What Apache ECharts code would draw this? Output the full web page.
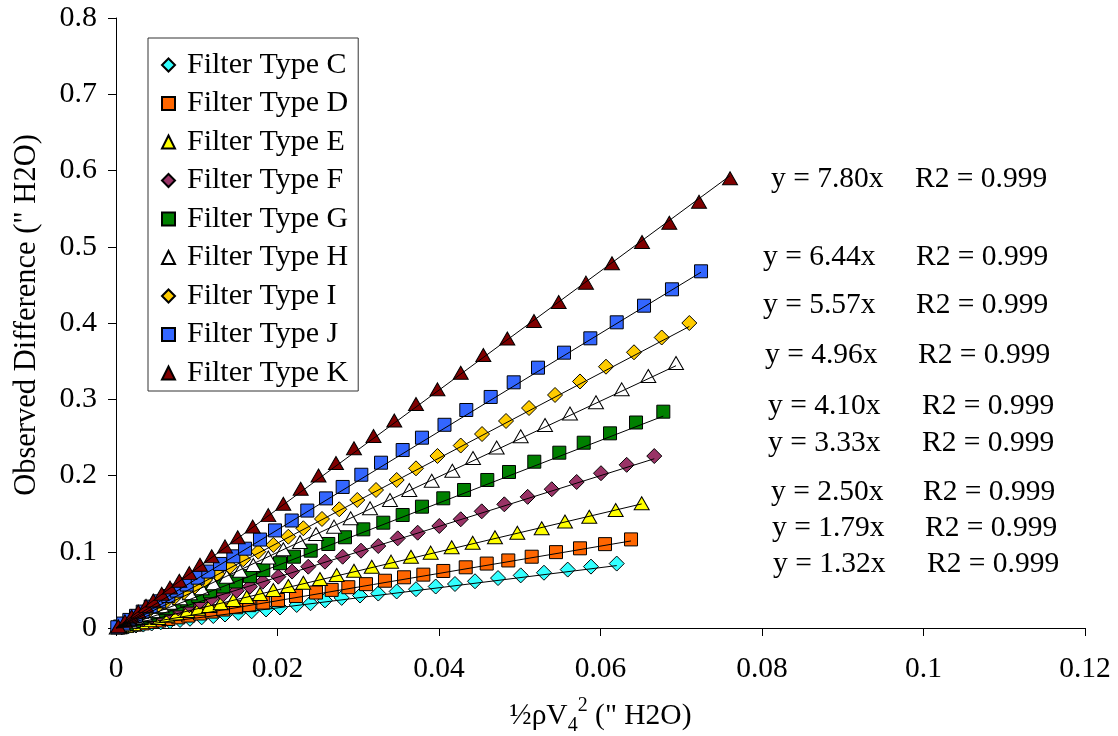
<!DOCTYPE html>
<html>
<head>
<meta charset="utf-8">
<script src="https://cdn.jsdelivr.net/npm/echarts@6/dist/echarts.min.js"></script>
<style>
html,body{margin:0;padding:0;background:#fff;}
#chart{width:1118px;height:736px;}
</style>
</head>
<body>
<div id="chart"></div>
<script>
// ---------- DATA ----------
const categories = ['Filter Type C','Filter Type D','Filter Type E','Filter Type F','Filter Type G','Filter Type H','Filter Type I','Filter Type J','Filter Type K'];
const slopes = [1.32, 1.79, 2.50, 3.33, 4.10, 4.96, 5.57, 6.44, 7.80];
const eqLabels = ['y = 1.32x','y = 1.79x','y = 2.50x','y = 3.33x','y = 4.10x','y = 4.96x','y = 5.57x','y = 6.44x','y = 7.80x'];
const r2Labels = ['R2 = 0.999','R2 = 0.999','R2 = 0.999','R2 = 0.999','R2 = 0.999','R2 = 0.999','R2 = 0.999','R2 = 0.999','R2 = 0.999'];
const xTickLabels = ['0','0.02','0.04','0.06','0.08','0.1','0.12'];
const yTickLabels = ['0','0.1','0.2','0.3','0.4','0.5','0.6','0.7','0.8'];
const xAxisTitle = '½ρV{sub|4}{sup|2} (" H2O)';
const yAxisTitle = 'Observed Difference (" H2O)';

const xC = [0.00071,0.00152,0.00248,0.00338,0.00442,0.00554,0.00669,0.00793,0.00916,0.01061,0.01205,0.01350,0.01514,0.01680,0.01858,0.02031,0.02238,0.02409,0.02588,0.02795,0.03022,0.03248,0.03476,0.03715,0.03959,0.04198,0.04446,0.04731,0.05012,0.05300,0.05594,0.05882,0.06201];
const yC = [0.0009,0.0020,0.0033,0.0045,0.0059,0.0074,0.0088,0.0105,0.0121,0.0140,0.0157,0.0177,0.0197,0.0219,0.0243,0.0269,0.0302,0.0325,0.0362,0.0395,0.0426,0.0452,0.0479,0.0509,0.0544,0.0577,0.0613,0.0655,0.0690,0.0725,0.0766,0.0805,0.0845];

const xD = [0.00058,0.00140,0.00235,0.00331,0.00430,0.00536,0.00648,0.00772,0.00895,0.01040,0.01185,0.01329,0.01486,0.01651,0.01824,0.02006,0.02229,0.02477,0.02671,0.02877,0.03096,0.03331,0.03567,0.03806,0.04053,0.04331,0.04591,0.04858,0.05148,0.05449,0.05746,0.06056,0.06378];
const yD = [0.0011,0.0026,0.0043,0.0060,0.0079,0.0098,0.0118,0.0140,0.0163,0.0190,0.0215,0.0242,0.0272,0.0300,0.0333,0.0368,0.0420,0.0465,0.0500,0.0535,0.0575,0.0620,0.0665,0.0700,0.0748,0.0796,0.0845,0.0886,0.0935,0.0995,0.1045,0.1100,0.1162];

const xE = [0.00041,0.00124,0.00214,0.00318,0.00412,0.00524,0.00635,0.00752,0.00883,0.01019,0.01155,0.01297,0.01453,0.01619,0.01783,0.01948,0.02134,0.02320,0.02526,0.02733,0.02947,0.03167,0.03406,0.03653,0.03897,0.04157,0.04417,0.04693,0.04970,0.05272,0.05560,0.05861,0.06188,0.06510];
const yE = [0.0010,0.0031,0.0054,0.0080,0.0103,0.0131,0.0160,0.0190,0.0223,0.0253,0.0289,0.0324,0.0367,0.0407,0.0446,0.0498,0.0551,0.0594,0.0643,0.0695,0.0751,0.0804,0.0870,0.0935,0.0988,0.1058,0.1119,0.1190,0.1250,0.1308,0.1397,0.1460,0.1548,0.1635];

const xF = [0.00071,0.00152,0.00248,0.00338,0.00442,0.00545,0.00660,0.00772,0.00908,0.01040,0.01185,0.01329,0.01495,0.01659,0.01817,0.02010,0.02180,0.02381,0.02588,0.02807,0.03034,0.03248,0.03489,0.03736,0.04004,0.04269,0.04529,0.04809,0.05098,0.05396,0.05705,0.06006,0.06324,0.06666];
const yF = [0.0024,0.0051,0.0083,0.0113,0.0147,0.0180,0.0220,0.0257,0.0300,0.0345,0.0390,0.0442,0.0489,0.0542,0.0607,0.0673,0.0740,0.0804,0.0870,0.0935,0.1014,0.1075,0.1176,0.1250,0.1338,0.1426,0.1530,0.1622,0.1720,0.1820,0.1915,0.2030,0.2140,0.2255];

const xG = [0.00050,0.00133,0.00223,0.00318,0.00421,0.00524,0.00628,0.00752,0.00883,0.01019,0.01164,0.01329,0.01486,0.01659,0.01824,0.02031,0.02204,0.02411,0.02629,0.02836,0.03063,0.03310,0.03550,0.03789,0.04053,0.04310,0.04598,0.04867,0.05180,0.05490,0.05792,0.06118,0.06440,0.06778];
const yG = [0.0020,0.0055,0.0092,0.0130,0.0173,0.0215,0.0260,0.0310,0.0360,0.0420,0.0480,0.0545,0.0610,0.0680,0.0760,0.0850,0.0935,0.1014,0.1102,0.1190,0.1294,0.1381,0.1482,0.1591,0.1701,0.1810,0.1941,0.2046,0.2181,0.2299,0.2430,0.2553,0.2695,0.2837];

const xH = [0.00009,0.00090,0.00173,0.00264,0.00359,0.00454,0.00566,0.00669,0.00793,0.00916,0.01061,0.01205,0.01371,0.01536,0.01700,0.01886,0.02072,0.02279,0.02477,0.02700,0.02906,0.03146,0.03393,0.03632,0.03910,0.04165,0.04421,0.04714,0.05012,0.05313,0.05622,0.05944,0.06263,0.06592,0.06935];
const yH = [0.0005,0.0045,0.0086,0.0131,0.0178,0.0225,0.0285,0.0332,0.0390,0.0455,0.0521,0.0586,0.0673,0.0751,0.0826,0.0925,0.1032,0.1128,0.1233,0.1329,0.1439,0.1570,0.1679,0.1810,0.1932,0.2063,0.2230,0.2367,0.2514,0.2662,0.2813,0.2961,0.3130,0.3305,0.3475];

const xI = [0.00058,0.00140,0.00223,0.00306,0.00400,0.00504,0.00607,0.00722,0.00842,0.00978,0.01102,0.01254,0.01412,0.01576,0.01762,0.01948,0.02134,0.02320,0.02551,0.02765,0.02988,0.03220,0.03476,0.03715,0.03981,0.04269,0.04533,0.04830,0.05115,0.05437,0.05746,0.06068,0.06415,0.06758,0.07100];
const yI = [0.0032,0.0078,0.0124,0.0170,0.0223,0.0280,0.0340,0.0400,0.0470,0.0545,0.0630,0.0708,0.0804,0.0901,0.1001,0.1089,0.1197,0.1308,0.1430,0.1557,0.1679,0.1810,0.1941,0.2094,0.2256,0.2393,0.2544,0.2715,0.2885,0.3056,0.3233,0.3427,0.3616,0.3810,0.4000];

const xJ = [0.00016,0.00090,0.00165,0.00248,0.00331,0.00430,0.00536,0.00648,0.00752,0.00876,0.01012,0.01143,0.01288,0.01453,0.01598,0.01783,0.01969,0.02176,0.02369,0.02601,0.02807,0.03038,0.03282,0.03550,0.03789,0.04068,0.04338,0.04640,0.04925,0.05226,0.05548,0.05874,0.06201,0.06539,0.06885,0.07245];
const yJ = [0.0010,0.0058,0.0106,0.0160,0.0215,0.0280,0.0350,0.0420,0.0490,0.0570,0.0660,0.0740,0.0840,0.0940,0.1040,0.1160,0.1280,0.1410,0.1540,0.1700,0.1850,0.2010,0.2168,0.2334,0.2496,0.2665,0.2859,0.3030,0.3222,0.3414,0.3611,0.3799,0.4009,0.4227,0.4442,0.4678];

const xK = [0.00028,0.00111,0.00194,0.00276,0.00372,0.00462,0.00566,0.00669,0.00784,0.00908,0.01040,0.01185,0.01350,0.01507,0.01693,0.01886,0.02072,0.02287,0.02508,0.02724,0.02947,0.03189,0.03446,0.03715,0.03981,0.04269,0.04549,0.04846,0.05176,0.05482,0.05820,0.06142,0.06514,0.06852,0.07220,0.07604];
const yK = [0.0022,0.0087,0.0150,0.0215,0.0290,0.0360,0.0450,0.0530,0.0620,0.0720,0.0830,0.0940,0.1070,0.1190,0.1330,0.1480,0.1630,0.1827,0.2000,0.2164,0.2357,0.2518,0.2721,0.2938,0.3130,0.3348,0.3580,0.3797,0.4026,0.4275,0.4529,0.4783,0.5062,0.5315,0.5591,0.5898];

// ---------- STYLE / LAYOUT ----------
const allX = [xC,xD,xE,xF,xG,xH,xI,xJ,xK];
const allY = [yC,yD,yE,yF,yG,yH,yI,yJ,yK];
const colors = ['#33FFFF','#FF6600','#FFFF00','#993366','#008000','#FFFFFF','#FFCC00','#3366FF','#800000'];
const symbols = ['diamond','rect','triangle','diamond','rect','triangle','diamond','rect','triangle'];
const symbolSizes = [[15,15],[13,13],[15,13],[15,15],[13,13],[15,13],[15,15],[13,13],[15,13]];
// annotation layout (pixels): [eqLeft, r2Left, centerY]
const annLayout = [[773,927,563],[772,925,527],[771,923,491],[768,922,442],[768,922,405],[765,918,354],[763,916,304],[763,916,256],[771,915,178]];
const FONT = "'Liberation Serif','Times New Roman',serif";

const chart = echarts.init(document.getElementById('chart'), null, {renderer:'canvas'});

const series = [];
categories.forEach((name, i) => {
  series.push({
    name: name,
    type: 'scatter',
    data: allX[i].map((x, k) => [x, allY[i][k]]),
    symbol: symbols[i],
    symbolSize: symbolSizes[i],
    itemStyle: {color: colors[i], borderColor: '#000', borderWidth: 1, opacity: 1},
    z: 2,
    silent: true,
    emphasis: {disabled: true}
  });
});
categories.forEach((name, i) => {
  const xs = allX[i];
  const xmax = Math.max.apply(null, xs);
  series.push({
    name: 'trend ' + name,
    type: 'line',
    data: [[0, 0], [xmax, slopes[i] * xmax]],
    showSymbol: false,
    symbol: 'none',
    lineStyle: {color: '#000', width: 1},
    z: 3,
    silent: true,
    animation: false
  });
});

const graphics = [];
categories.forEach((name, i) => {
  const L = annLayout[i];
  graphics.push({type:'text', left: L[0], top: L[2] - 14, silent: true,
    style:{text: eqLabels[i], fill:'#000', font: '29.5px ' + FONT}});
  graphics.push({type:'text', left: L[1], top: L[2] - 14, silent: true,
    style:{text: r2Labels[i], fill:'#000', font: '29.5px ' + FONT}});
});

const option = {
  animation: false,
  backgroundColor: '#fff',
  grid: {left: 116, right: 33, top: 18, bottom: 108, containLabel: false, outerBoundsMode: 'none'},
  xAxis: {
    type: 'value', min: 0, max: 0.12, interval: 0.02,
    name: xAxisTitle, nameLocation: 'middle', nameGap: 68,
    nameTextStyle: {
      fontFamily: FONT, fontSize: 29.5, color: '#000', lineHeight: 40,
      rich: {
        sub: {fontFamily: FONT, fontSize: 20, color: '#000', lineHeight: 18, verticalAlign: 'bottom'},
        sup: {fontFamily: FONT, fontSize: 20, color: '#000', lineHeight: 18, verticalAlign: 'top'}
      }
    },
    axisLine: {show: true, lineStyle: {color: '#000', width: 1}},
    axisTick: {show: true, inside: false, length: 8, lineStyle: {color: '#000'}},
    axisLabel: {color: '#000', fontFamily: FONT, fontSize: 29.5, margin: 26,
      formatter: (v) => xTickLabels[Math.round(v / 0.02)]},
    splitLine: {show: false}
  },
  yAxis: {
    type: 'value', min: 0, max: 0.8, interval: 0.1,
    name: yAxisTitle, nameLocation: 'middle', nameGap: 74, nameRotate: 90,
    nameTextStyle: {fontFamily: FONT, fontSize: 30.5, color: '#000', padding: [0, 0, 0, 16]},
    axisLine: {show: true, lineStyle: {color: '#000', width: 1}},
    axisTick: {show: true, inside: false, length: 8, lineStyle: {color: '#000'}},
    axisLabel: {color: '#000', fontFamily: FONT, fontSize: 30, margin: 19,
      formatter: (v) => yTickLabels[Math.round(v / 0.1)]},
    splitLine: {show: false}
  },
  legend: {
    data: categories,
    orient: 'vertical',
    left: 148, top: 38,
    padding: [12, 10, 3, 13],
    itemGap: 8.5,
    itemWidth: 13, itemHeight: 13,
    borderColor: '#333', borderWidth: 1,
    backgroundColor: '#fff',
    selectedMode: false,
    textStyle: {fontFamily: FONT, fontSize: 30, color: '#000', lineHeight: 30, padding: [0, 0, 0, 7]}
  },
  graphic: graphics,
  series: series
};
chart.setOption(option);
</script>
</body>
</html>
